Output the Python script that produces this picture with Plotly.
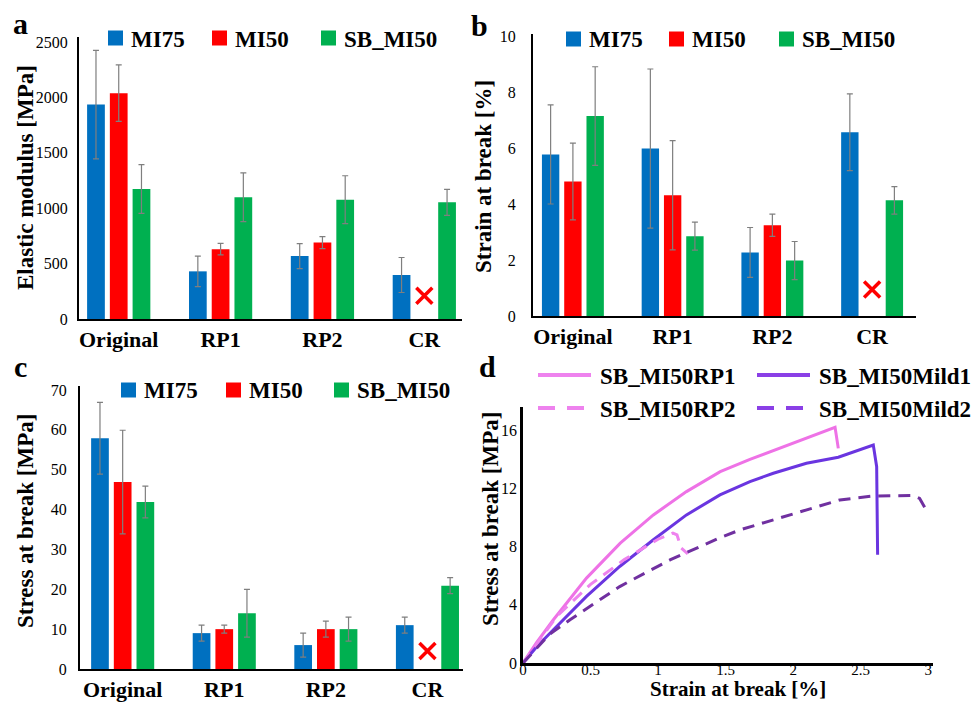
import plotly.graph_objects as go

W, H = 974, 702
SERIF = "Liberation Serif, Times New Roman, serif"

# ---------------- data ----------------
categories = ["Original", "RP1", "RP2", "CR"]
series_names = ["MI75", "MI50", "SB_MI50"]
series_colors = ["#0070C0", "#FF0000", "#00B050"]

# (a) Elastic modulus [MPa]
modulus_mi75 = [1935, 430, 568, 397]
modulus_mi50 = [2038, 630, 690, None]
modulus_sb = [1173, 1098, 1077, 1053]
modulus_err_mi75 = [490, 138, 113, 158]
modulus_err_mi50 = [255, 52, 54, 0]
modulus_err_sb = [220, 220, 216, 117]

# (b) Strain at break [%]
strain_mi75 = [5.77, 5.98, 2.27, 6.56]
strain_mi50 = [4.80, 4.31, 3.24, None]
strain_sb = [7.14, 2.85, 1.98, 4.13]
strain_err_mi75 = [1.77, 2.84, 0.89, 1.37]
strain_err_mi50 = [1.37, 1.95, 0.40, 0]
strain_err_sb = [1.76, 0.50, 0.68, 0.49]

# (c) Stress at break [MPa]
stress_mi75 = [57.9, 9.0, 6.0, 11.0]
stress_mi50 = [46.9, 10.0, 10.0, None]
stress_sb = [41.9, 14.0, 10.0, 20.9]
stress_err_mi75 = [9.0, 2.0, 3.0, 2.0]
stress_err_mi50 = [13.0, 1.0, 2.0, 0]
stress_err_sb = [4.0, 6.0, 3.0, 2.0]

# red cross marking the missing MI50 / CR sample in panels a, b, c
missing_marker_y = [210, 0.95, 4.5]

# (d) stress-strain curves
rp1_strain = [0, 0.1, 0.225, 0.47, 0.72, 0.965, 1.21, 1.46, 1.68, 1.85, 2.10, 2.31, 2.334]
rp1_stress = [0, 1.4, 2.97, 5.83, 8.23, 10.17, 11.77, 13.14, 13.98, 14.58, 15.5, 16.19, 14.74]
rp2_strain = [0, 0.1, 0.25, 0.5, 0.75, 1.0, 1.11, 1.14, 1.17, 1.22]
rp2_stress = [0, 1.3, 3.2, 5.4, 7.1, 8.5, 8.92, 8.8, 7.9, 7.5]
mild1_strain = [0, 0.1, 0.225, 0.47, 0.716, 0.965, 1.21, 1.458, 1.68, 1.853, 2.098, 2.334, 2.593, 2.618, 2.625]
mild1_stress = [0, 1.1, 2.28, 4.57, 6.63, 8.46, 10.17, 11.54, 12.46, 13.03, 13.72, 14.13, 14.97, 13.48, 7.43]
mild2_strain = [0, 0.2, 0.348, 0.716, 1.088, 1.458, 1.606, 1.853, 2.1, 2.346, 2.593, 2.889, 2.936, 2.999]
mild2_stress = [0, 2.0, 2.97, 5.25, 7.08, 8.6, 9.14, 9.83, 10.51, 11.2, 11.47, 11.5, 11.3, 10.29]

curve_names = ["SB_MI50RP1", "SB_MI50Mild1", "SB_MI50RP2", "SB_MI50Mild2"]
curve_colors = ["#EE72E6", "#6A35E0", "#EE82EE", "#7030A0"]
curve_legend_colors = ["#EE82EE", "#8A3FE6", "#EE82EE", "#8A3FE6"]
curve_dash = ["solid", "solid", "12px,8px", "12px,8px"]


def px_x(p):
    return p / W


def px_y(p):
    return 1 - p / H


fig = go.Figure()

bar_panels = [
    ("x", "y",
     [modulus_mi75, modulus_mi50, modulus_sb],
     [modulus_err_mi75, modulus_err_mi50, modulus_err_sb], missing_marker_y[0]),
    ("x2", "y2",
     [strain_mi75, strain_mi50, strain_sb],
     [strain_err_mi75, strain_err_mi50, strain_err_sb], missing_marker_y[1]),
    ("x3", "y3",
     [stress_mi75, stress_mi50, stress_sb],
     [stress_err_mi75, stress_err_mi50, stress_err_sb], missing_marker_y[2]),
]

for xa, ya, vals, errs, miss in bar_panels:
    for name, col, v, e in zip(series_names, series_colors, vals, errs):
        fig.add_trace(go.Bar(
            x=categories, y=v, name=name, xaxis=xa, yaxis=ya, showlegend=False,
            marker=dict(color=col, line=dict(width=0)),
            error_y=dict(type="data", array=e, visible=True,
                         color="#7F7F7F", thickness=1.2, width=3),
        ))
    fig.add_trace(go.Scatter(
        x=["CR"], y=[miss], mode="markers", xaxis=xa, yaxis=ya, showlegend=False,
        marker=dict(symbol="x-thin", size=16, line=dict(width=3.5, color="#FF0000"),
                    color="#FF0000"),
    ))

curves = [(rp1_strain, rp1_stress), (mild1_strain, mild1_stress),
          (rp2_strain, rp2_stress), (mild2_strain, mild2_stress)]
for (cx, cy), name, col, dash in zip(curves, curve_names, curve_colors, curve_dash):
    fig.add_trace(go.Scatter(
        x=cx, y=cy, mode="lines", name=name, xaxis="x4", yaxis="y4", showlegend=False,
        line=dict(color=col, width=3, dash=dash),
    ))

tick_font = dict(family=SERIF, size=16, color="black")
cat_font = dict(family=SERIF, size=22, color="black", weight="bold")


def cat_axis(x0, x1, rng, anchor):
    return dict(domain=[px_x(x0), px_x(x1)], type="category", range=rng, anchor=anchor,
                showline=True, linecolor="black", linewidth=2, ticks="",
                tickfont=cat_font, showgrid=False, zeroline=False,
                ticklabelstandoff=0)


def val_axis(y0, y1, rng, dtick, anchor, standoff):
    return dict(domain=[px_y(y1), px_y(y0)], range=rng, dtick=dtick, anchor=anchor,
                showline=True, linecolor="black", linewidth=2, ticks="",
                tickfont=tick_font, showgrid=False, zeroline=False,
                ticklabelstandoff=standoff)


def label(text, xp, yp, size=23, angle=0, anchor="center"):
    fig.add_annotation(text=text, x=px_x(xp), y=px_y(yp), xref="paper", yref="paper",
                       showarrow=False, textangle=angle, xanchor=anchor, yanchor="middle",
                       font=dict(family=SERIF, size=size, color="black", weight="bold"))


fig.update_layout(
    width=W, height=H, margin=dict(l=0, r=0, t=0, b=0, autoexpand=False),
    paper_bgcolor="white", plot_bgcolor="white",
    font=dict(family=SERIF, color="black"),
    showlegend=False,
    barmode="group", bargap=0.33, bargroupgap=0.22,
    xaxis=cat_axis(79, 462, [-0.39, 3.37], "y"),
    yaxis=val_axis(37, 319, [0, 2545], 500, "x", 6),
    xaxis2=cat_axis(533, 916, [-0.40, 3.44], "y2"),
    yaxis2=val_axis(34, 316, [0, 10.07], 2, "x2", 12),
    xaxis3=cat_axis(80, 463, [-0.42, 3.35], "y3"),
    yaxis3=val_axis(386, 669, [0, 71], 10, "x3", 8),
    xaxis4=dict(domain=[px_x(523), px_x(933)], range=[0, 3.035], anchor="y4",
                tickvals=[0, 0.5, 1, 1.5, 2, 2.5, 3],
                ticktext=["0", "0.5", "1", "1.5", "2", "2.5", "3"],
                showline=True, linecolor="black", linewidth=2.5, ticks="",
                tickfont=dict(family=SERIF, size=15, color="black"),
                showgrid=False, zeroline=False, ticklabelstandoff=-9),
    yaxis4=dict(domain=[px_y(663), px_y(407)], range=[0, 17.58], anchor="x4",
                tickvals=[0, 4, 8, 12, 16],
                showline=True, linecolor="black", linewidth=2.5, ticks="",
                tickfont=tick_font, showgrid=False, zeroline=False, ticklabelstandoff=0),
)

# ---- legends (drawn as swatches + text, one per panel) ----
bar_legend_layout = [  # (swatch left x for each series, row centre y)
    ([108, 212, 321], 38),
    ([566, 669, 779], 39),
    ([121, 226, 334], 390),
]
for xs, yc in bar_legend_layout:
    for x0, name, col in zip(xs, series_names, series_colors):
        fig.add_shape(type="rect", xref="paper", yref="paper",
                      x0=px_x(x0), x1=px_x(x0 + 15), y0=px_y(yc + 7.5), y1=px_y(yc - 7.5),
                      fillcolor=col, line=dict(width=0))
        label(name, x0 + 21, yc + 1, anchor="left")

line_legend_layout = [(538, 375), (757, 375), (538, 408), (757, 408)]
for (x0, yc), name, col, dash in zip(line_legend_layout, curve_names,
                                     curve_legend_colors, curve_dash):
    fig.add_shape(type="line", xref="paper", yref="paper",
                  x0=px_x(x0), x1=px_x(x0 + 53), y0=px_y(yc), y1=px_y(yc),
                  line=dict(color=col, width=4,
                            dash="solid" if dash == "solid" else "17px,12px"))
    label(name, x0 + 60, yc + 1, anchor="left")

# panel letters
label("a", 20, 24, size=30)
label("b", 479, 26, size=30)
label("c", 20, 366, size=30)
label("d", 487, 366, size=30)

# axis titles
label("Elastic modulus [MPa]", 25, 178, angle=-90)
label("Strain at break [%]", 483, 177, angle=-90)
label("Stress at break [MPa]", 25, 521, angle=-90)
label("Stress at break [MPa]", 490, 519, angle=-90)
label("Strain at break [%]", 738, 689, size=21)

fig.write_html("out.html")
